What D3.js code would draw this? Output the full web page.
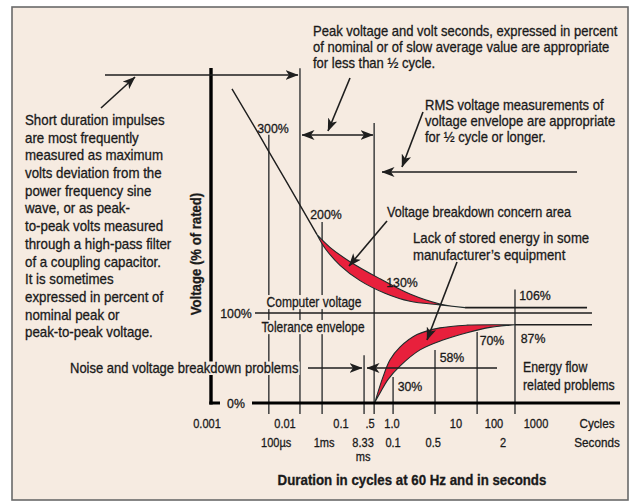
<!DOCTYPE html>
<html><head><meta charset="utf-8">
<script src="https://cdn.jsdelivr.net/npm/d3@7"></script>
<style>
html,body{margin:0;padding:0;background:#fff;}
svg text{font-family:"Liberation Sans",Arial,sans-serif;fill:#1a1a1a;stroke:#1a1a1a;stroke-width:0.3px;}
</style></head><body><svg id="c" width="635" height="502"></svg>
<script>
// ---------- data ----------
const cycleTicks = [0.001, 0.01, 0.1, 0.5, 1, 10, 100, 1000];
const cycleTickLabels = ["0.001", "0.01", "0.1", ".5", "1.0", "10", "100", "1000"];
const secondTickCycles = [0.0077, 0.05, 0.34, 1.04, 4.4, 164];
const secondTickLabels = ["100\u00b5s", "1ms", "8.33", "0.1", "0.5", "2"];
const markerCycles = [0.0062, 0.0185, 0.046, 0.36, 0.57, 1.04, 4.7, 36, 316];
const markerTopPct = [298, 372, 201, 53, 311, 29, 59, 79, 126];
const pctLabels = ["300%", "200%", "130%", "106%", "87%", "70%", "58%", "30%"];
const pctLabelCycles = [0.00702, 0.054, 1.43, 946, 849, 88.6, 8.66, 1.91];
const pctLabelPct = [305, 209, 134, 119, 72, 70, 51, 18];
const axisPctLabels = ["100%", "0%"];
const axisPctValues = [100, 0];
const axisPctCycles = [0.00235, 0.00235];
const upperCurveCycles = [0.00209, 0.00412, 0.00605, 0.0123, 0.0373];
const upperCurvePct = [349, 306, 281, 239, 187];
const bandHighCycles = [0.0373, 0.0636, 0.165, 0.686, 1.91, 5.62, 17.3];
const bandHighPct = [187, 173, 157, 138, 121, 110, 106];
const bandLowCycles = [0.0373, 0.0518, 0.096, 0.287, 0.80, 1.91, 5.62, 17.3];
const bandLowPct = [187, 172, 153, 136, 122, 113, 109, 106];
const lowerHighCycles = [0.585, 0.753, 0.94, 1.33, 2.46, 5.62, 19.5, 139, 316];
const lowerHighPct = [1, 29, 48, 62, 76, 83.5, 86.5, 87, 87];
const lowerLowCycles = [0.585, 0.686, 0.88, 1.33, 2.74, 6.27, 19.5, 78.5, 240, 316];
const lowerLowPct = [1, 11, 26, 41, 59, 70, 78, 84, 86.5, 87];
const levelPct = [106, 100, 87];
const levelStartCycles = [17.3, 0.00412, 316];
const levelEndCycles = [16400, 21500, 21500];

// ---------- layout ----------
const svg = d3.select("#c");
const INK = "#1e1e1e";
const BG = "#f6ebe1";
const x = d3.scaleLinear().domain(cycleTicks.map(Math.log10)).range([207, 285, 341, 370, 392, 456, 494, 536]);
const X = c => x(Math.log10(c));
const y = d3.scaleLinear().domain([0, 100]).range([403, 313]);

svg.append("rect").attr("x", 0).attr("y", 0).attr("width", 635).attr("height", 502).attr("fill", "#fff");
svg.append("rect").attr("x", 12).attr("y", 7).attr("width", 616).attr("height", 493)
  .attr("fill", BG).attr("stroke", "#6a6a6a").attr("stroke-width", 1.6);

const defs = svg.append("defs");
defs.append("marker").attr("id", "ah").attr("viewBox", "0 0 13 10").attr("refX", 12.5).attr("refY", 5)
  .attr("markerWidth", 13).attr("markerHeight", 10).attr("markerUnits", "userSpaceOnUse")
  .attr("orient", "auto-start-reverse")
  .append("path").attr("d", "M0,0 L13,5 L0,10 L3.5,5 Z").attr("fill", INK);

// vertical marker lines
const yTickBottom = y(0) + 11;
svg.append("g").selectAll("line").data(markerCycles).join("line")
  .attr("x1", d => X(d)).attr("x2", d => X(d))
  .attr("y1", (d, i) => y(markerTopPct[i])).attr("y2", yTickBottom)
  .attr("stroke", "#4a4a4a").attr("stroke-width", 1.6);

// level lines
svg.append("g").selectAll("line").data(levelPct).join("line")
  .attr("x1", (d, i) => X(levelStartCycles[i])).attr("x2", (d, i) => X(levelEndCycles[i]))
  .attr("y1", d => y(d)).attr("y2", d => y(d))
  .attr("stroke", INK).attr("stroke-width", 1.6);

// curves
const pts = (cs, ps) => cs.map((c, i) => [X(c), y(ps[i])]);
const lg = d3.line().curve(d3.curveCatmullRom.alpha(0.5));
function band(hc, hp, lc, lp) {
  const a = lg(pts(hc, hp));
  const b = lg(pts(lc, lp).reverse());
  return a + "L" + b.slice(1) + "Z";
}
svg.append("path").attr("d", band(bandHighCycles, bandHighPct, bandLowCycles, bandLowPct))
  .attr("fill", "#e8203c").attr("stroke", "#1d2b2b").attr("stroke-width", 1.1);
svg.append("path").attr("d", band(lowerHighCycles, lowerHighPct, lowerLowCycles, lowerLowPct))
  .attr("fill", "#e8203c").attr("stroke", "#1d2b2b").attr("stroke-width", 1.1);
svg.append("path").attr("d", lg(pts(upperCurveCycles, upperCurvePct)))
  .attr("fill", "none").attr("stroke", INK).attr("stroke-width", 1.4);

// axes
svg.append("line").attr("x1", 211).attr("x2", 211).attr("y1", 68).attr("y2", y(0) + 1.5)
  .attr("stroke", "#000").attr("stroke-width", 3.4);
svg.append("line").attr("x1", 209.3).attr("x2", 220).attr("y1", y(0)).attr("y2", y(0))
  .attr("stroke", "#000").attr("stroke-width", 3);
svg.append("line").attr("x1", 252).attr("x2", 620).attr("y1", y(0)).attr("y2", y(0))
  .attr("stroke", "#000").attr("stroke-width", 3.2);

// text helper: horizontally condensed text, optional knock-out background
const textLayer = svg.append("g");
function ctext(px, py, s, size, sx, anchor, weight, knock) {
  const g = textLayer.append("g");
  const t = g.append("text")
    .attr("transform", `translate(${px},${py}) scale(${sx},1)`)
    .attr("dy", "0.35em").attr("font-size", size)
    .attr("text-anchor", anchor || "start")
    .attr("font-weight", weight || "normal").text(s);
  if (knock) {
    const bb = t.node().getBBox();
    g.insert("rect", "text").attr("x", px + bb.x * sx - 1).attr("y", py + bb.y + 1)
      .attr("width", bb.width * sx + 2).attr("height", bb.height - 2).attr("fill", BG);
  }
  return t;
}

// tick labels
cycleTicks.forEach((d, i) => ctext(X(d), 423, cycleTickLabels[i], 13, 0.85, "middle"));
secondTickCycles.forEach((d, i) => ctext(X(d), 442, secondTickLabels[i], 13, 0.85, "middle"));
ctext(X(secondTickCycles[2]), 456, "ms", 13, 0.85, "middle");
ctext(597, 423, "Cycles", 13, 0.9, "middle");
ctext(597, 442, "Seconds", 13, 0.9, "middle");

// percent labels
pctLabels.forEach((d, i) => ctext(X(pctLabelCycles[i]), y(pctLabelPct[i]), d, 13, 0.95, "middle"));
axisPctLabels.forEach((d, i) => ctext(X(axisPctCycles[i]), y(axisPctValues[i]), d, 13, 0.95, "middle"));

// axis titles
ctext(412, 480, "Duration in cycles at 60 Hz and in seconds", 14, 0.95, "middle", "bold");
textLayer.append("text").attr("transform", "translate(196,254) rotate(-90) scale(0.94,1)").attr("dy", "0.35em")
  .attr("text-anchor", "middle").attr("font-size", 14).attr("font-weight", "bold").text("Voltage (% of rated)");

// annotation text blocks
function block(lines, x0, y0, lh, sx, anchor, knock) {
  lines.forEach((l, i) => ctext(x0, y0 + i * lh, l, 14, sx, anchor, "normal", knock));
}
block(["Short duration impulses", "are most frequently", "measured as maximum", "volts deviation from the",
  "power frequency sine", "wave, or as peak-", "to-peak volts measured", "through a high-pass filter",
  "of a coupling capacitor.", "It is sometimes", "expressed in percent of", "nominal peak or",
  "peak-to-peak voltage."], 25, 120, 17.7, 0.95);
block(["Peak voltage and volt seconds, expressed in percent", "of nominal or of slow average value are appropriate",
  "for less than \u00bd cycle."], 313, 31, 16, 0.93);
block(["RMS voltage measurements of", "voltage envelope are appropriate", "for \u00bd cycle or longer."], 425, 105, 16, 0.93);
block(["Voltage breakdown concern area"], 387, 212, 16, 0.9);
block(["Lack of stored energy in some", "manufacturer\u2019s equipment"], 413, 238, 17.5, 0.94);
block(["Computer voltage"], 314, 302, 16, 0.86, "middle", true);
block(["Tolerance envelope"], 313, 327, 16, 0.85, "middle", true);
block(["Noise and voltage breakdown problems"], 70, 368, 16, 0.93, "start", true);
block(["Energy flow", "related problems"], 523, 367, 18.5, 0.88);

// arrows
const arrows = [
  [105, 75, 298, 75, false], [101, 108, 135, 77, false], [302, 135, 373, 135, true],
  [350, 78, 328, 131, false], [577, 172, 382, 172, false], [423, 112, 402, 167, false],
  [387, 221, 349, 266, false], [457, 262, 427, 340, false], [308, 368, 362, 368, false],
  [497, 368, 367, 368, false]
];
svg.append("g").selectAll("line").data(arrows).join("line")
  .attr("x1", d => d[0]).attr("y1", d => d[1]).attr("x2", d => d[2]).attr("y2", d => d[3])
  .attr("stroke", INK).attr("stroke-width", 1.6)
  .attr("marker-end", "url(#ah)").attr("marker-start", d => d[4] ? "url(#ah)" : null);
</script></body></html>
